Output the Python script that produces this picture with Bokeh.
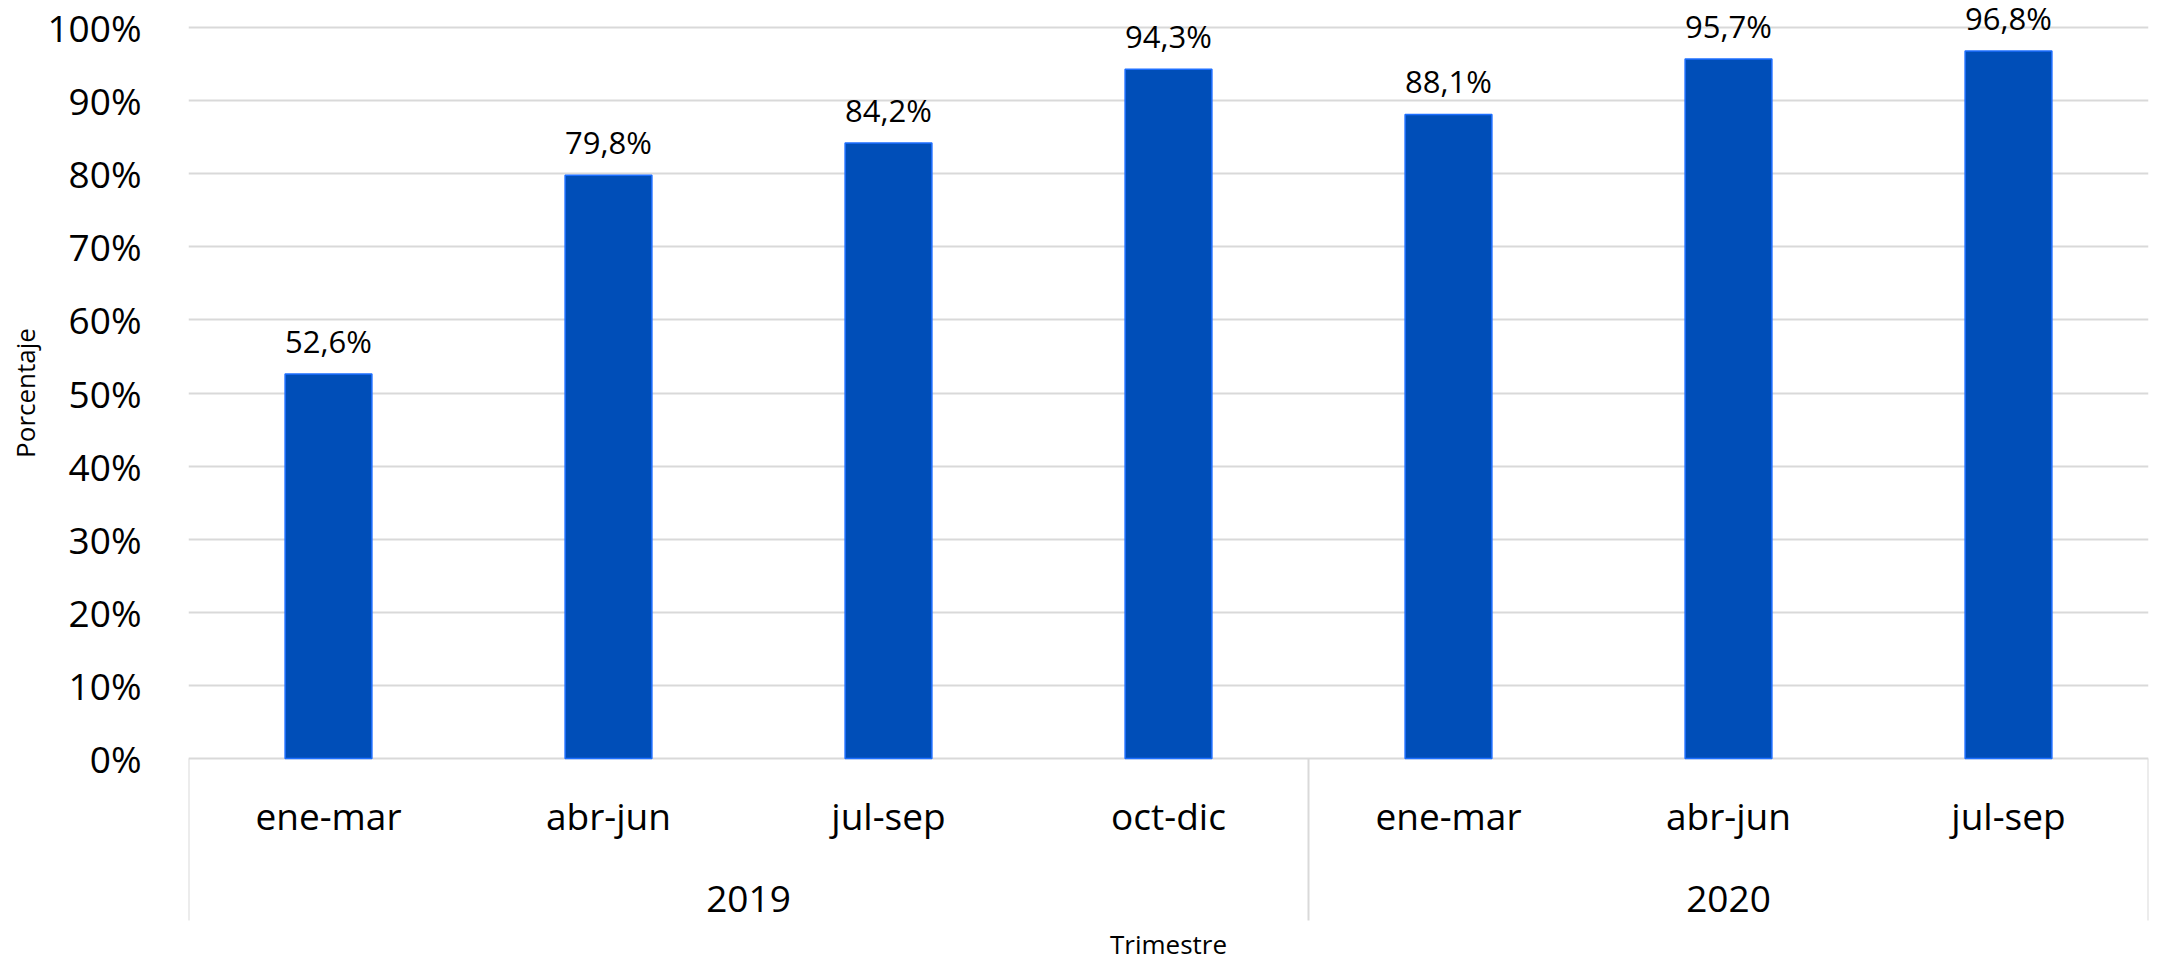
import math
from bokeh.plotting import figure
from bokeh.layouts import row
from bokeh.models import ColumnDataSource, FixedTicker, PrintfTickFormatter, LabelSet, Range1d
from bokeh.core.properties import value
from bokeh.embed import file_html
from bokeh.resources import INLINE

# ---- data ----
quarters = ["ene-mar", "abr-jun", "jul-sep", "oct-dic", "ene-mar", "abr-jun", "jul-sep"]
years = ["2019", "2019", "2019", "2019", "2020", "2020", "2020"]
percentages = [52.6, 79.8, 84.2, 94.3, 88.1, 95.7, 96.8]
pct_labels = ["52,6%", "79,8%", "84,2%", "94,3%", "88,1%", "95,7%", "96,8%"]
y_ticks = [0, 10, 20, 30, 40, 50, 60, 70, 80, 90, 100]
x_title = "Trimestre"
y_title = "Porcentaje"

FONT = "Open Sans"
PX = 7.31        # pixels per percentage unit
TOP = 27         # pixel row of 100%
ZERO = 758       # pixel row of 0%
H = 960
LW = 44          # width of the strip holding the y title
FRAME_LEFT = 188

n = len(quarters)
xpos = [i + 0.5 for i in range(n)]

# --- strip with the y-axis title ---
t = figure(width=LW, height=H, output_backend="svg", toolbar_location=None,
           x_range=Range1d(0, LW), y_range=Range1d(0, H),
           min_border_left=0, min_border_right=0, min_border_top=0, min_border_bottom=0)
t.axis.visible = False
t.grid.visible = False
t.outline_line_color = None
t.text(x=[24], y=[H - (TOP + ZERO) / 2], text=[y_title], angle=math.pi / 2,
       text_align="center", text_baseline="middle",
       text_font=value(FONT), text_font_size="26px", text_color="black")

# --- main chart ---
p = figure(width=2148 - LW + 2, height=H, output_backend="svg", toolbar_location=None,
           x_range=Range1d(0, n), y_range=Range1d(-(H - ZERO) / PX, 100 + TOP / PX),
           min_border_left=FRAME_LEFT - LW, min_border_right=2, min_border_top=0, min_border_bottom=0)
p.outline_line_color = None
p.background_fill_color = "white"
p.border_fill_color = "white"
p.xaxis.visible = False
p.xgrid.visible = False

p.yaxis.ticker = FixedTicker(ticks=y_ticks)
p.yaxis.formatter = PrintfTickFormatter(format="%d%%")
p.yaxis.axis_line_color = None
p.yaxis.major_tick_line_color = None
p.yaxis.minor_tick_line_color = None
p.yaxis.major_label_text_font = FONT
p.yaxis.major_label_text_font_size = "37px"
p.yaxis.major_label_text_color = "black"
p.yaxis.major_label_standoff = 41

p.ygrid.ticker = FixedTicker(ticks=y_ticks)
p.ygrid.grid_line_color = "#D9D9D9"
p.ygrid.grid_line_width = 2

src = ColumnDataSource(dict(x=xpos, top=percentages, lab=pct_labels, q=quarters))
p.vbar(x="x", top="top", bottom=0, width=0.31, source=src,
       fill_color="#004EB8", line_color="#1E6FFF", line_width=1.5)

labels = LabelSet(x="x", y="top", text="lab", source=src, y_offset=21,
                  text_align="center", text_baseline="alphabetic",
                  text_font=value(FONT), text_font_size="31px", text_color="black")
p.add_layout(labels)

# category labels
p.text(x="x", y=-57 / PX, text="q", source=src, text_align="center", text_baseline="middle",
       text_font=value(FONT), text_font_size="37px", text_color="black")

# year groups
groups = []
for y in years:
    if y not in groups:
        groups.append(y)
starts = [years.index(g) for g in groups]
ends = [len(years) - years[::-1].index(g) for g in groups]
mids = [(s + e) / 2 for s, e in zip(starts, ends)]
p.text(x=mids, y=[-140 / PX] * len(groups), text=groups, text_align="center", text_baseline="middle",
       text_font=value(FONT), text_font_size="37px", text_color="black")

seps = sorted(set(starts + ends))
p.segment(x0=seps, y0=[0] * len(seps), x1=seps, y1=[-162 / PX] * len(seps),
          line_color="#D9D9D9", line_width=2)

p.text(x=[n / 2], y=[-185 / PX], text=[x_title], text_align="center", text_baseline="middle",
       text_font=value(FONT), text_font_size="26px", text_color="black")

layout = row(t, p)
open("out.html", "w").write(file_html(layout, INLINE))
